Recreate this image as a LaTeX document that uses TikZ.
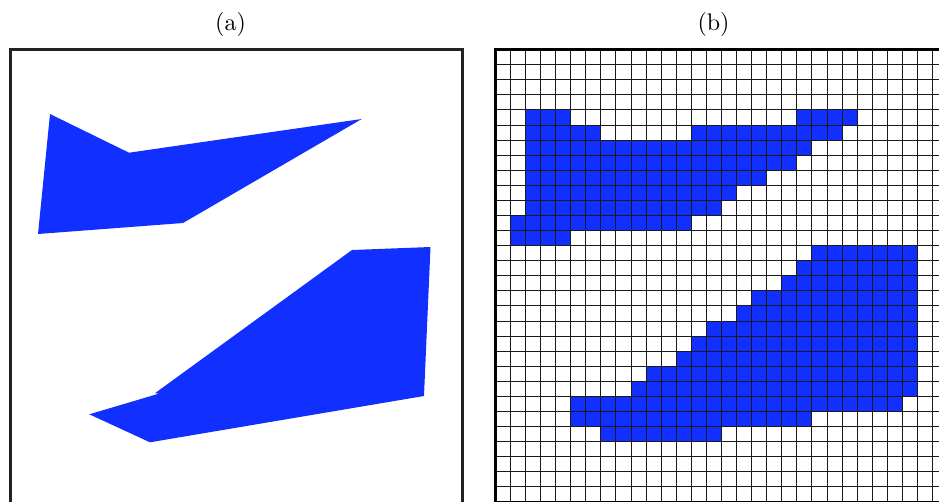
\documentclass[tikz,border=0pt]{standalone}
\definecolor{fillblue}{RGB}{17,48,255}
\definecolor{framegray}{RGB}{34,34,34}
\tikzset{
  shapefill/.style={fill=fillblue},
  panelframe/.style={draw=framegray,line width=2.7pt},
  gridline/.style={draw=black!90,line width=1.6pt},
  gridborder/.style={draw=black,line width=2.8pt},
  panellabel/.style={inner sep=0pt,scale=2.4}
}
\begin{document}
\begin{tikzpicture}[x=1pt,y=-1pt]
\useasboundingbox (0,0) rectangle (939,501);
\clip (0,0) rectangle (939,501);
% labels
\node[panellabel] (la) at (230.5,24.5) {(a)};
\node[panellabel] (lb) at (713.5,24.5) {(b)};
% panel (a)
\fill[shapefill] (50,114) -- (129,152.7) -- (361.7,119) -- (183,223) -- (38,234) -- cycle;
\fill[shapefill] (89.3,414.3) -- (159,393.6) -- (155,393.2) -- (352,250) -- (430.5,247) -- (424,396) -- (150,442.3) -- cycle;
\draw[panelframe] (10.7,49.6) rectangle (462.3,530);
% panel (b)
\foreach \r/\a/\b in {4/2/4, 4/20/23, 5/2/6, 5/13/22, 6/2/20, 7/2/19, 8/2/17, 9/2/15, 10/2/14, 11/1/12, 12/1/4, 13/21/27, 14/20/27, 15/19/27, 16/17/27, 17/16/27, 18/14/27, 19/13/27, 20/12/27, 21/10/27, 22/9/27, 23/5/26, 24/5/20, 25/7/14}
  \fill[shapefill] ({floor(495.3+15.08*\a)+0.5},{floor(49.6+15.08*\r)+0.5}) rectangle ({floor(495.3+15.08*(\b+1))+0.5},{floor(49.6+15.08*(\r+1))+0.5});
\foreach \i in {1,...,29} {
  \draw[gridline] ({floor(495.3+15.08*\i)+0.5},49.6) -- ({floor(495.3+15.08*\i)+0.5},510);
  \draw[gridline] (495.3,{floor(49.6+15.08*\i)+0.5}) -- (950,{floor(49.6+15.08*\i)+0.5});
}
\draw[gridborder] (495.3,49.6) rectangle ({495.3+15.08*30},{49.6+15.08*30});
\end{tikzpicture}
\end{document}
